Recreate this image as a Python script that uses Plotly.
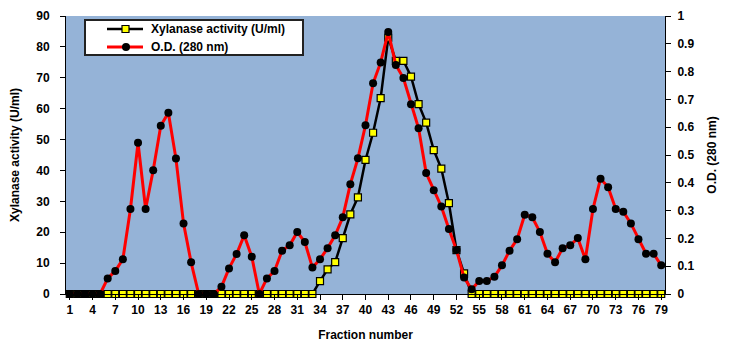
import plotly.graph_objects as go

fractions = list(range(1, 80))

xylanase = [0]*33 + [4.2, 8.0, 10.3, 18.1, 25.8, 31.3, 43.4, 52.2, 63.4, 83.0,
                     75.5, 75.5, 70.4, 61.5, 55.5, 46.6, 40.6, 29.4, 14.2, 6.7] + [0]*26

od = [0, 0, 0, 0, 0, 0.056, 0.083, 0.125, 0.306, 0.544,
      0.306, 0.445, 0.605, 0.652, 0.487, 0.254, 0.114, 0, 0, 0,
      0.026, 0.092, 0.144, 0.211, 0.134, 0, 0.056, 0.083, 0.156, 0.175,
      0.223, 0.187, 0.095, 0.125, 0.165, 0.211, 0.276, 0.395, 0.488, 0.607,
      0.758, 0.833, 0.942, 0.824, 0.777, 0.683, 0.596, 0.435, 0.373, 0.315,
      0.234, 0.158, 0.059, 0.017, 0.047, 0.047, 0.062, 0.103, 0.156, 0.197,
      0.285, 0.276, 0.223, 0.145, 0.114, 0.165, 0.175, 0.201, 0.125, 0.306,
      0.415, 0.384, 0.306, 0.296, 0.254, 0.197, 0.145, 0.145, 0.103]

x_ticks = list(range(1, 80, 3))
y_ticks = list(range(0, 91, 10))
y2_ticks = [i/10 for i in range(0, 11)]
y2_labels = ["0"] + [f"{v:.1f}" for v in y2_ticks[1:-1]] + ["1"]

series_names = ["Xylanase activity (U/ml)", "O.D. (280 nm)"]

FONT = "Liberation Sans, Arial, sans-serif"

# the page body adds an 8px offset; figure is sized so the plot area lands
# where it is in the reference (page pixels 66..665 x 16..294)
OFF = 8
W, H = 724, 336
ML, MR, MT, MB = 58, 67, 8, 50
PW, PH = W - ML - MR, H - MT - MB


def px(x):
    return (x - OFF - ML) / PW


def py(y):
    return (H - MB - (y - OFF)) / PH


fig = go.Figure()
fig.add_trace(go.Scatter(
    x=fractions, y=xylanase, name=series_names[0],
    mode="lines+markers",
    line=dict(color="black", width=2.5),
    marker=dict(symbol="square", size=7, color="#FFFF00",
                line=dict(color="black", width=1.2)),
    cliponaxis=False, showlegend=False,
))
fig.add_trace(go.Scatter(
    x=fractions, y=od, name=series_names[1], yaxis="y2",
    mode="lines+markers",
    line=dict(color="#FF0000", width=3),
    marker=dict(symbol="circle", size=8, color="black"),
    cliponaxis=False, showlegend=False,
))

# legend (drawn in paper coordinates)
shapes = [
    dict(type="rect", xref="paper", yref="paper",
         x0=px(85), x1=px(303), y0=py(55), y1=py(20),
         fillcolor="white", line=dict(color="#222222", width=2), layer="above"),
    dict(type="line", xref="paper", yref="paper",
         x0=px(107), x1=px(143), y0=py(29), y1=py(29),
         line=dict(color="black", width=2.5), layer="above"),
    dict(type="rect", xref="paper", yref="paper",
         x0=px(122), x1=px(129), y0=py(32.5), y1=py(25.5),
         fillcolor="#FFFF00", line=dict(color="black", width=1.2), layer="above"),
    dict(type="line", xref="paper", yref="paper",
         x0=px(107), x1=px(143), y0=py(47), y1=py(47),
         line=dict(color="#FF0000", width=3), layer="above"),
    dict(type="circle", xref="paper", yref="paper",
         x0=px(122), x1=px(130), y0=py(51), y1=py(43),
         fillcolor="black", line=dict(color="black", width=0), layer="above"),
]
annotations = [
    dict(xref="paper", yref="paper", x=px(149), y=py(29), xanchor="left", yanchor="middle",
         text=f"<b>{series_names[0]}</b>", showarrow=False,
         font=dict(family=FONT, size=12, color="black")),
    dict(xref="paper", yref="paper", x=px(149), y=py(47), xanchor="left", yanchor="middle",
         text=f"<b>{series_names[1]}</b>", showarrow=False,
         font=dict(family=FONT, size=12, color="black")),
]

fig.update_layout(
    width=W, height=H,
    margin=dict(l=ML, r=MR, t=MT, b=MB),
    paper_bgcolor="white",
    plot_bgcolor="#95B3D7",
    font=dict(family=FONT, size=12, color="black"),
    showlegend=False,
    shapes=shapes,
    annotations=annotations,
    xaxis=dict(
        range=[0.5, 79.5], tickvals=x_ticks, ticktext=[str(v) for v in x_ticks],
        automargin=False,
        showgrid=False, zeroline=False, showline=True, linecolor="black", linewidth=1,
        ticks="outside", ticklen=5, tickcolor="black",
        tickfont=dict(family=FONT, size=12, weight="bold"),
        title=dict(text="<b>Fraction number</b>", font=dict(family=FONT, size=12), standoff=14),
    ),
    yaxis=dict(
        range=[0, 90], tickvals=y_ticks,
        automargin=False,
        showgrid=False, zeroline=False, showline=True, linecolor="black", linewidth=1,
        ticks="outside", ticklen=5, tickcolor="black", ticklabelstandoff=8,
        tickfont=dict(family=FONT, size=12, weight="bold"),
        title=dict(text="<b>Xylanase activity (U/ml)</b>", font=dict(family=FONT, size=12), standoff=14),
    ),
    yaxis2=dict(
        range=[0, 1], tickvals=y2_ticks, ticktext=y2_labels,
        overlaying="y", side="right", automargin=False,
        showgrid=False, zeroline=False, showline=True, linecolor="black", linewidth=1,
        ticks="outside", ticklen=5, tickcolor="black", ticklabelstandoff=4,
        tickfont=dict(family=FONT, size=12, weight="bold"),
        title=dict(text="<b>O.D. (280 nm)</b>", font=dict(family=FONT, size=12), standoff=14),
    ),
)

fig.write_html("out.html")
